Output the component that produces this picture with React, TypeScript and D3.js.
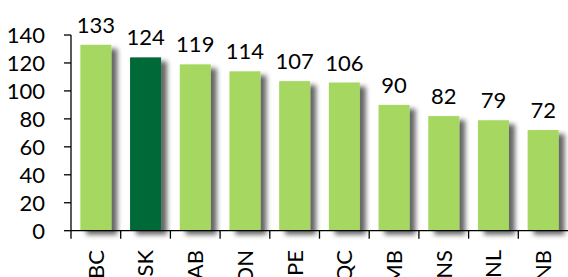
import React from "react";
import * as d3 from "d3";

const categories = ["BC", "SK", "AB", "ON", "PE", "QC", "MB", "NS", "NL", "NB"];
const values = [133, 124, 119, 114, 107, 106, 90, 82, 79, 72];
const highlight = ["SK"];
const yTicks = [0, 20, 40, 60, 80, 100, 120, 140];

const W = 568;
const H = 277;
const FONT = "Lato, 'Open Sans', sans-serif";

export default function App() {
  const x0 = 71;
  const x1 = 568;
  const yTop = 35;
  const yBase = 230.7;

  const x = d3.scaleBand<string>().domain(categories).range([x0, x1]).paddingInner(0).paddingOuter(0);
  const y = d3.scaleLinear().domain([0, 140]).range([yBase, yTop]);
  const barW = 31;

  return (
    <svg width={W} height={H} style={{ position: "absolute", left: 0, top: 0, background: "#fff" }}>
      <defs>
        <filter id="shadow" x="-20%" y="-10%" width="160%" height="130%">
          <feGaussianBlur in="SourceAlpha" stdDeviation="2.8" />
          <feOffset dx="6" dy="4" result="off" />
          <feFlood floodColor="#000" floodOpacity="0.6" />
          <feComposite in2="off" operator="in" />
          <feMerge>
            <feMergeNode />
            <feMergeNode in="SourceGraphic" />
          </feMerge>
        </filter>
      </defs>
      <g filter="url(#shadow)">
        {categories.map((c, i) => (
          <rect
            key={c}
            x={x(c)! + x.bandwidth() / 2 - barW / 2}
            y={y(values[i])}
            width={barW}
            height={yBase - y(values[i])}
            fill={highlight.includes(c) ? "#036937" : "#A6D760"}
          />
        ))}
      </g>
      {categories.map((c, i) => (
        <text
          key={"v" + c}
          x={x(c)! + x.bandwidth() / 2}
          y={y(values[i]) - 12}
          textAnchor="middle"
          fontFamily={FONT}
          fontSize={22}
          fill="#000"
        >
          {values[i]}
        </text>
      ))}
      {/* y axis */}
      <line x1={x0} x2={x0} y1={yTop} y2={yBase} stroke="#000" strokeWidth={1.3} />
      {yTicks.map((t) => (
        <g key={"yt" + t}>
          <line x1={x0 - 7} x2={x0} y1={y(t)} y2={y(t)} stroke="#000" strokeWidth={1.3} />
          <text x={45} y={y(t)} dy="0.36em" textAnchor="end" fontFamily={FONT} fontSize={22} fill="#000">
            {t}
          </text>
        </g>
      ))}
      {/* x axis */}
      <line x1={x0} x2={x1} y1={yBase} y2={yBase} stroke="#000" strokeWidth={1.3} />
      {categories.map((c) => (
        <line key={"xt" + c} x1={x(c)!} x2={x(c)!} y1={yBase} y2={yBase + 8} stroke="#000" strokeWidth={1.3} />
      ))}
      {categories.map((c) => {
        const cx = x(c)! + x.bandwidth() / 2;
        const cy = 250;
        return (
          <text
            key={"xl" + c}
            transform={`translate(${cx},${cy}) rotate(-90)`}
            textAnchor="end"
            dy="0.36em"
            fontFamily={FONT}
            fontSize={22}
            fill="#000"
          >
            {c}
          </text>
        );
      })}
    </svg>
  );
}
